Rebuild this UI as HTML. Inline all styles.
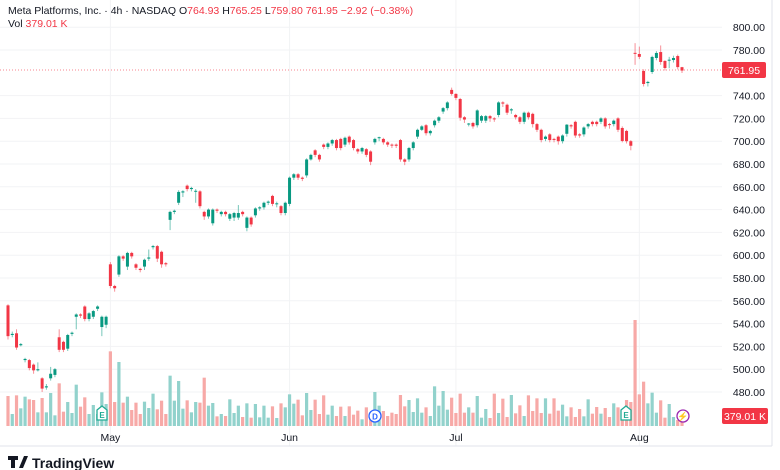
<!DOCTYPE html>
<html><head><meta charset="utf-8"><style>
body{margin:0;background:#fff;font-family:"Liberation Sans",sans-serif;}
#wrap{position:relative;width:780px;height:470px;overflow:hidden;}
</style></head><body>
<div id="wrap">
<svg id="chart" width="780" height="470" viewBox="0 0 780 470" xmlns="http://www.w3.org/2000/svg">
<g id="grid"></g>
<g id="vol"></g>
<line x1="0" x2="722" y1="70" y2="70" stroke="#f23645" stroke-width="1" stroke-dasharray="1,2" opacity="0.6"/>
<g id="candles"></g>
<g id="yaxis"></g>
<g id="xaxis"></g>
<line x1="0" x2="772" y1="446" y2="446" stroke="#e0e3eb"/>
<line x1="772" x2="772" y1="0" y2="446" stroke="#e0e3eb"/>
<text x="8" y="14" font-size="10.5" fill="#131722">Meta Platforms, Inc. · 4h · NASDAQ <tspan fill="#131722">O</tspan><tspan fill="#f23645">764.93</tspan> <tspan fill="#131722">H</tspan><tspan fill="#f23645">765.25</tspan> <tspan fill="#131722">L</tspan><tspan fill="#f23645">759.80</tspan> <tspan fill="#f23645">761.95 −2.92 (−0.38%)</tspan></text>
<text x="8" y="27" font-size="10.5" fill="#131722">Vol <tspan fill="#f23645">379.01 K</tspan></text>
<rect x="722" y="62" width="44" height="16" rx="2" fill="#f23645"/>
<text x="744" y="74" font-size="10.5" fill="#fff" text-anchor="middle">761.95</text>
<rect x="722" y="408" width="46" height="16" rx="2" fill="#f23645"/>
<text x="745" y="420" font-size="10.5" fill="#fff" text-anchor="middle">379.01 K</text>
<g><path d="M97,410 L102,406 L107,410 L107,420 L97,420 Z" fill="#fff" stroke="#22ab94" stroke-width="1.3"/><text x="102" y="418" font-size="8" fill="#22ab94" text-anchor="middle" font-weight="bold">E</text></g>
<g><path d="M621,410 L626,406 L631,410 L631,420 L621,420 Z" fill="#fff" stroke="#22ab94" stroke-width="1.3"/><text x="626" y="418" font-size="8" fill="#22ab94" text-anchor="middle" font-weight="bold">E</text></g>
<g><circle cx="375" cy="416" r="6" fill="#fff" stroke="#2962ff" stroke-width="1.3"/><text x="375" y="419.5" font-size="8" fill="#2962ff" text-anchor="middle" font-weight="bold">D</text></g>
<g><circle cx="683" cy="416" r="6" fill="#fff" stroke="#9c27b0" stroke-width="1.3"/><text x="683" y="419.5" font-size="9" fill="#9c27b0" text-anchor="middle">⚡</text></g>
<g><path d="M8,456 h10 v4 h-3 v8 h-4 v-8 h-3 z M19,468 l5,-12 h4 l-5,12 z" fill="#131722"/><text x="32" y="468" font-size="14" font-weight="bold" fill="#131722">TradingView</text></g>
</svg></div>
<script>
const opens=[556,530,531.5,521,508,508,504,499,492,484,492,495,528,524,518,531,546,548,555,544,546,553,537,539,592,573,583,599,590,602,592,588,590,597,607,608,603,593,631,638,646,655,661,658,656,656,638,634,628,640,636,638,632,633,633,638,624,633,635,641,642,646,652,645,643,637,645,668,671,668,670,684,692,688,697,695,698,701,702,697,704,701,693,691,693,691,699,703,702,699,697,697,701,684,684,694,704,710,714,707,714,718,726,729,745,741.5,737,721,715,716,714,718,718,722,720,723,734,732,727,723,721,717,725,724,715,710,702,706,702,704,700,706.5,714,717,706,706,713,717,717,717,720,715,715,720,711.6,709,700,777.5,776.5,761.6,751,760.7,773,778.2,770.4,771,771.2,774.7,764.93];
const closes=[529,531,519,522,509,501,499,500,483,485,496,500,517,517,530,532,548,547,544,549,551,555,546,546,573,571,599,597,602,599,589,587,596,598,608,597,592,592,638,639,655.5,656,658,659,656.5,643,634,640,640,639,638,636,636,637,637,636,633,627,641,642,646,647,645,645.5,637,646,668,671,668,667,684,688,688,684,695,698,701,694,694,703,699,694,691,694,688,682,702,703.5,699,697,696.5,696,684,682,694,699,710,713,707,709,718,721,729,734,741.5,738,720.6,719,715.5,713,727,722,722,720,719.5,734,733,725,728,721,717,725,721,715,710,701,704,701,701.5,700,705,714.5,713,705,705,712,715,715,715,720,713,714.5,718,710,700.2,700,696,777,774,750.2,752,773.9,777.4,769.5,764.2,771.5,773,765,761.95];
const highs=[557,533,535,523,510,509,505,506,493,487,502,501,535,525,531,533,549,549,556,550,552,556,547,547,594,574,600,600,603,603,593,589,597,605,609,609,604,594,639,640,657,657,662,660,658,657,639,641,641,641,639,639,637,638,644,639,634,634,642,643,647,648,653,647,644,647,669,672,672,669,685,689,693,689,698,699,702,702,703,704,705,702,694,695,694,692,703,704,703,700,698,698,702,685,695,700,711,714,715,710,719,722,730,735,747,742,738,722,716,717,728,723,723,723,721,735,735,733,729,724,722,726,726,725,716,711,705,707,703,705,706,715,715,718,707,713,716,718,718,721,721,716,719,721,713,710,701,786,783,763,753,775,779,784,771,774,775,776,765.25];
const lows=[526,528,517,520,506,499,496,498,480,482,490,493,515,515,516,529,535,545,542,542,544,551,529,536,571,568,581,595,587,597,587,585,587,595,605,594,589,590,622,636,644,651,656,656,646,641,631,632,626,637,634,634,630,630,631,634,621,625,633,639,640,644,643,642,635,635,643,666,666,665,668,683,686,682,693,693,696,692,692,695,697,692,689,689,686,679,697,700,697,695,694,694,682,679,682,692,702,709,705,705,712,716,724,727,740,736,718,716,713,711,712,716,716,717,717,721,730,723,724,719,715,715,719,712,708,699,700,699,699,697,698,704,711,703,703,704,711,713,713,715,711,711,713,708,699,698,692,767,772,748,748,759,771,767,762,764,769,763,759.8];
const volumes=[90,36,92,53,88,80,78,41,84,41,99,32,128,43,72,39,124,58,86,36,63,36,101,66,224,72,192,70,88,48,70,36,73,54,97,50,76,36,151,76,135,52,77,41,72,70,145,61,69,29,36,30,80,39,61,27,68,25,66,26,61,25,59,24,68,56,95,67,79,32,99,48,79,36,92,34,61,30,58,30,59,34,46,20,56,28,102,61,45,30,40,36,93,59,78,42,83,40,56,30,119,61,105,49,85,39,97,40,56,40,90,25,51,24,97,39,82,27,93,38,62,30,92,45,83,39,83,37,83,46,64,29,56,27,51,29,80,37,57,37,54,27,68,56,40,78,72,318,95,133,68,100,40,77,25,66,27,18,19];
const priceTicks=[800,780,740,720,700,680,660,640,620,600,580,560,540,520,500,480];
const monthLabels=["May","Jun","Jul","Aug"];
const monthIndex=[24,66,105,148];

const NS="http://www.w3.org/2000/svg";
const n=opens.length;
function xS(i){return 8+i*(674/(n-1));}
function yS(p){return 50+(780-p)*1.14;}
function vH(v){return v/318*106;}
function mk(tag,attrs,parent){const e=document.createElementNS(NS,tag);for(const k in attrs)e.setAttribute(k,attrs[k]);parent.appendChild(e);return e;}
const grid=document.getElementById('grid'),yax=document.getElementById('yaxis'),xax=document.getElementById('xaxis');
priceTicks.forEach(p=>{
  const l=mk('line',{x1:0,x2:722,y1:yS(p),y2:yS(p),stroke:'#f2f3f5'},grid);
  
  
  const t=mk('text',{x:765,y:yS(p)+4,'font-size':10.5,fill:'#131722','text-anchor':'end'},yax);
  t.textContent=p.toFixed(2);
  
  
});
monthLabels.forEach((m,k)=>{
  const x=xS(monthIndex[k]);
  const l=mk('line',{x1:x,x2:x,y1:0,y2:446,stroke:'#f2f3f5'},grid);
  
  
  const t=mk('text',{x:x,y:441,'font-size':10.5,fill:'#131722','text-anchor':'middle'},xax);
  t.textContent=m;
  
  
});
const vg=document.getElementById('vol'),cg=document.getElementById('candles');
for(let i=0;i<n;i++){
  const up=closes[i]>=opens[i];
  const x=xS(i);
  const h=vH(volumes[i]);
  const r=mk('rect',{x:x-1.6,y:426-h,width:3.2,height:h,fill:up?'#92d2cc':'#f7a9a7'},vg);
  
  
  const col=up?'#089981':'#f23645';
  const hi=Math.max(highs[i],opens[i],closes[i]),lo=Math.min(lows[i],opens[i],closes[i]);
  const w=mk('line',{x1:x,x2:x,y1:yS(hi),y2:yS(lo),stroke:col,'stroke-width':1,opacity:0.55},cg);
  
  
  const top=yS(Math.max(opens[i],closes[i])),bot=yS(Math.min(opens[i],closes[i]));
  const b=mk('rect',{x:x-1.5,y:top,width:3,height:Math.max(1,bot-top),fill:col},cg);
  
  
}
</script>
</body></html>
